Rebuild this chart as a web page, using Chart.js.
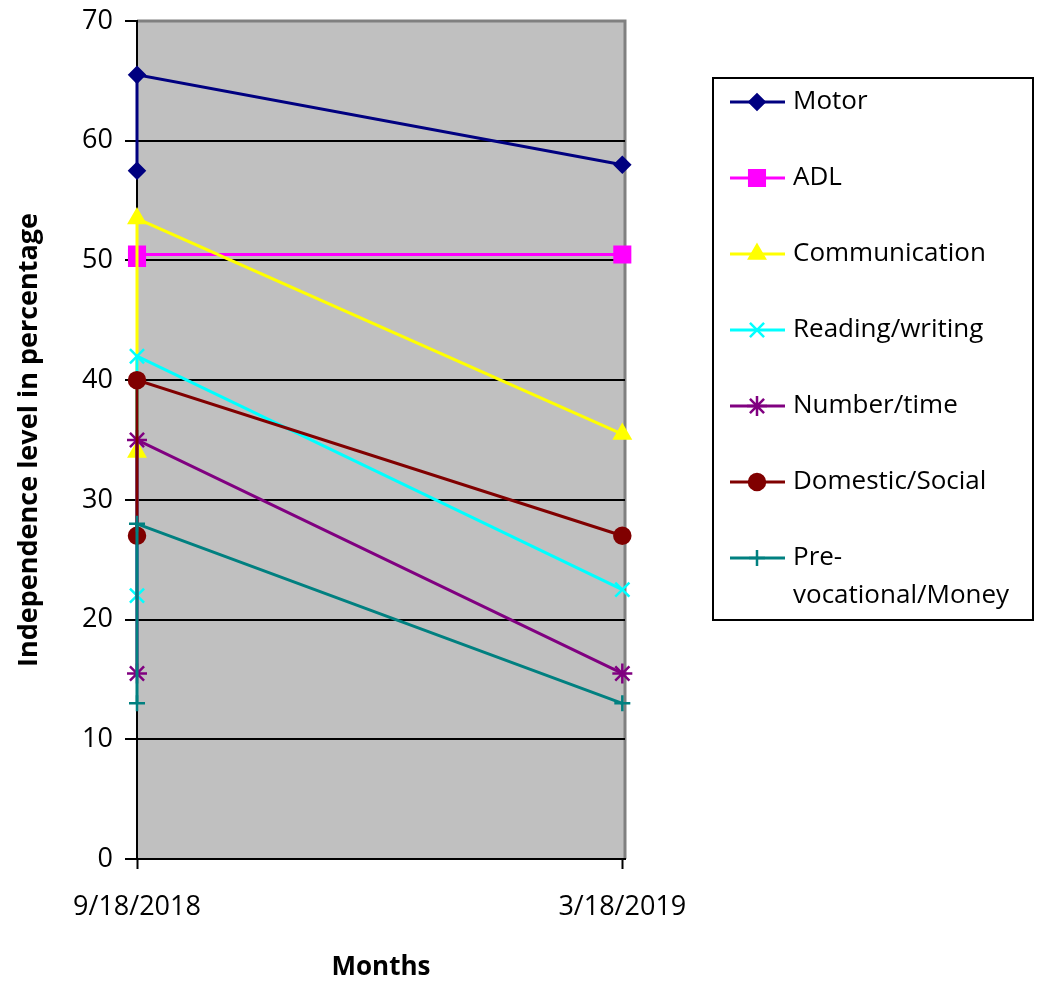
<!DOCTYPE html>
<html lang="en">
<head>
    <meta charset="UTF-8">
    <title>Independence level</title>
    <script src="https://cdn.jsdelivr.net/npm/chart.js"></script>
    <style>
        * { margin: 0; padding: 0; box-sizing: border-box; }
        body { background: #fff; }
        #wrap { width: 1043px; height: 983px; }
    </style>
</head>
<body>
    <div id="wrap">
        <canvas id="progressChart" width="1043" height="983"></canvas>
    </div>

    <script>
        // x positions are days after the first assessment date
        const dateLabels = ['9/18/2018', '9/18/2018', '3/18/2019'];
        const dayOffsets = [0, 0, 181];
        const tickDays = [0, 181];
        const tickLabels = ['9/18/2018', '3/18/2019'];

        const seriesNames = ['Motor', 'ADL', 'Communication', 'Reading/writing', 'Number/time', 'Domestic/Social', 'Pre-vocational/Money'];
        const motor = [57.5, 65.5, 58];
        const adl = [50.2, 50.5, 50.5];
        const communication = [34, 53.5, 35.5];
        const readingWriting = [22, 42, 22.5];
        const numberTime = [15.5, 35, 15.5];
        const domesticSocial = [27, 40, 27];
        const preVocational = [13, 28, 13];

        const seriesValues = [motor, adl, communication, readingWriting, numberTime, domesticSocial, preVocational];
        const colors = ['#000080', '#FF00FF', '#FFFF00', '#00FFFF', '#800080', '#800000', '#008080'];
        const markers = ['rectRot', 'rect', 'triangle', 'crossRot', 'star', 'circle', 'cross'];
        const markerSizes = [7.5, 11, 9, 10, 10, 8, 8];

        const FONT = '"Open Sans", sans-serif';

        const datasets = seriesNames.map((name, i) => ({
            label: name,
            data: seriesValues[i].map((v, j) => ({ x: dayOffsets[j], y: v })),
            borderColor: colors[i],
            backgroundColor: colors[i],
            borderWidth: 3,
            pointStyle: markers[i],
            pointRadius: markerSizes[i],
            pointBorderWidth: 2.5,
            pointBackgroundColor: colors[i],
            pointBorderColor: colors[i],
            tension: 0,
            clip: false,
            order: seriesNames.length - i
        }));

        const plotBackground = {
            id: 'plotBackground',
            beforeDraw(chart) {
                const { ctx, chartArea: a } = chart;
                ctx.save();
                ctx.fillStyle = '#C0C0C0';
                ctx.fillRect(a.left, a.top, a.right - a.left, a.bottom - a.top);
                ctx.strokeStyle = '#808080';
                ctx.lineWidth = 3;
                ctx.beginPath();
                ctx.moveTo(a.left, a.top);
                ctx.lineTo(a.right, a.top);
                ctx.lineTo(a.right, a.bottom);
                ctx.stroke();
                ctx.restore();
            }
        };

        const boxLegend = {
            id: 'boxLegend',
            afterDraw(chart) {
                const ctx = chart.ctx;
                const box = { x: 713, y: 78, w: 320, h: 542 };
                ctx.save();
                ctx.strokeStyle = '#000';
                ctx.lineWidth = 2;
                ctx.strokeRect(box.x, box.y, box.w, box.h);
                ctx.font = '26px ' + FONT;
                ctx.textBaseline = 'middle';
                chart.data.datasets.forEach((ds, i) => {
                    const y = 102 + 76 * i;
                    ctx.strokeStyle = ds.borderColor;
                    ctx.lineWidth = 3;
                    ctx.beginPath();
                    ctx.moveTo(730, y);
                    ctx.lineTo(785, y);
                    ctx.stroke();
                    ctx.fillStyle = ds.borderColor;
                    ctx.lineWidth = 2.5;
                    Chart.helpers.drawPoint(ctx, { pointStyle: ds.pointStyle, radius: ds.pointRadius, borderWidth: 2.5, rotation: 0 }, 757, y);
                    ctx.fillStyle = '#000';
                    let lines = [ds.label];
                    if (ctx.measureText(ds.label).width > box.x + box.w - 800 && ds.label.includes('-')) {
                        const k = ds.label.indexOf('-') + 1;
                        lines = [ds.label.slice(0, k), ds.label.slice(k)];
                    }
                    lines.forEach((t, j) => ctx.fillText(t, 793, y + j * 38));
                });
                ctx.restore();
            }
        };

        new Chart(document.getElementById('progressChart').getContext('2d'), {
            type: 'line',
            data: { datasets: datasets },
            options: {
                responsive: false,
                animation: false,
                layout: { padding: { top: 21, right: 418, bottom: 0, left: 0 } },
                plugins: {
                    legend: { display: false },
                    tooltip: { enabled: false }
                },
                scales: {
                    x: {
                        type: 'linear',
                        min: 0,
                        max: 182,
                        afterBuildTicks: (scale) => { scale.ticks = tickDays.map(v => ({ value: v })); },
                        afterFit: (scale) => { scale.height = 124; scale.paddingLeft = 0; scale.paddingRight = 0; },
                        ticks: {
                            autoSkip: false,
                            maxRotation: 0,
                            padding: 22,
                            color: '#000',
                            font: { family: FONT, size: 27 },
                            callback: (v) => tickLabels[tickDays.indexOf(v)]
                        },
                        grid: { drawOnChartArea: false, drawTicks: true, tickLength: 10, tickColor: '#000', tickWidth: 2 },
                        border: { color: '#000', width: 2 },
                        title: {
                            display: true,
                            text: 'Months',
                            color: '#000',
                            font: { family: FONT, size: 26, weight: 'bold' },
                            padding: { top: 0, bottom: 0 }
                        }
                    },
                    y: {
                        min: 0,
                        max: 70,
                        afterFit: (scale) => { scale.width = 137; scale.paddingTop = 0; scale.paddingBottom = 0; },
                        ticks: {
                            stepSize: 10,
                            padding: 12,
                            color: '#000',
                            font: { family: FONT, size: 27 }
                        },
                        grid: {
                            color: (c) => (c.tick && c.tick.value === 70 ? 'rgba(0,0,0,0)' : '#000'),
                            lineWidth: 2,
                            tickLength: 12,
                            tickColor: '#000',
                            tickWidth: 2
                        },
                        border: { color: '#000', width: 2 },
                        title: {
                            display: true,
                            text: 'Independence level in percentage',
                            color: '#000',
                            font: { family: FONT, size: 27, weight: 'bold' },
                            padding: { top: 13, bottom: 0 }
                        }
                    }
                }
            },
            plugins: [plotBackground, boxLegend]
        });
    </script>
</body>
</html>
